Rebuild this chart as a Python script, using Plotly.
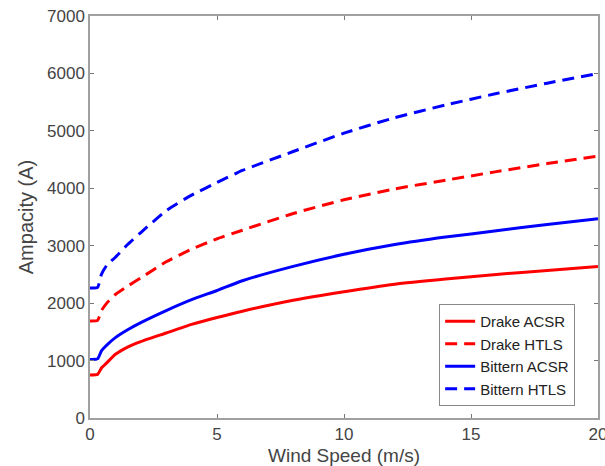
import plotly.graph_objects as go

wind = [0, 0.3, 0.45, 0.66, 1, 1.5, 2, 3, 4, 5, 6, 8, 10, 12, 14, 16, 18, 20]

drake_acsr = [750, 760, 870, 960, 1110, 1240, 1330, 1480, 1630, 1750, 1860, 2050, 2200, 2330, 2420, 2500, 2570, 2640]
drake_htls = [1690, 1700, 1870, 2000, 2150, 2300, 2440, 2720, 2940, 3120, 3270, 3560, 3800, 3990, 4140, 4290, 4430, 4560]
bittern_acsr = [1020, 1030, 1170, 1270, 1400, 1540, 1660, 1870, 2060, 2220, 2390, 2640, 2850, 3020, 3150, 3260, 3370, 3470]
bittern_htls = [2264, 2275, 2500, 2660, 2800, 3030, 3230, 3610, 3880, 4100, 4310, 4640, 4960, 5230, 5450, 5650, 5830, 6000]

series = [
    ("Drake ACSR", drake_acsr, "#ff0000", "solid"),
    ("Drake HTLS", drake_htls, "#ff0000", "12px,7px"),
    ("Bittern ACSR", bittern_acsr, "#0000ff", "solid"),
    ("Bittern HTLS", bittern_htls, "#0000ff", "12px,7px"),
]

fig = go.Figure()
for name, vals, color, dash in series:
    fig.add_trace(go.Scatter(
        x=wind, y=vals, name=name, mode="lines",
        line=dict(color=color, width=3, dash=dash, shape="spline", smoothing=0.5),
    ))

axis_common = dict(
    showgrid=False, zeroline=False, showline=True, linecolor="#a0a0a0", linewidth=1.5,
    mirror="ticks", ticks="inside", ticklen=4, tickcolor="#777777", tickwidth=1,
    ticklabeloverflow="allow", automargin=False,
    tickfont=dict(family="Liberation Sans, Arial, sans-serif", size=17, color="#444444"),
)

fig.update_layout(
    width=605, height=466,
    margin=dict(l=90, r=7, t=16, b=48),
    paper_bgcolor="white", plot_bgcolor="white",
    font=dict(family="Liberation Sans, Arial, sans-serif", color="#444444"),
    xaxis=dict(range=[0, 20], tickvals=[0, 5, 10, 15, 20], **axis_common),
    yaxis=dict(range=[0, 7000], tickvals=[0, 1000, 2000, 3000, 4000, 5000, 6000, 7000],
               title=dict(text="Ampacity (A)", font=dict(size=20, color="#444444"), standoff=8),
               **axis_common),
    legend=dict(
        x=0.955, y=0.03, xanchor="right", yanchor="bottom",
        bgcolor="white", bordercolor="#888888", borderwidth=1,
        font=dict(size=15, color="#222222", family="Liberation Sans, Arial, sans-serif"),
        tracegroupgap=0, itemwidth=30,
    ),
    showlegend=True,
)

fig.add_annotation(
    text="Wind Speed (m/s)", xref="paper", yref="paper", x=0.5, y=0,
    xanchor="center", yanchor="middle", yshift=-37, showarrow=False,
    font=dict(size=19, color="#444444", family="Liberation Sans, Arial, sans-serif"),
)

fig.write_html("out.html")
